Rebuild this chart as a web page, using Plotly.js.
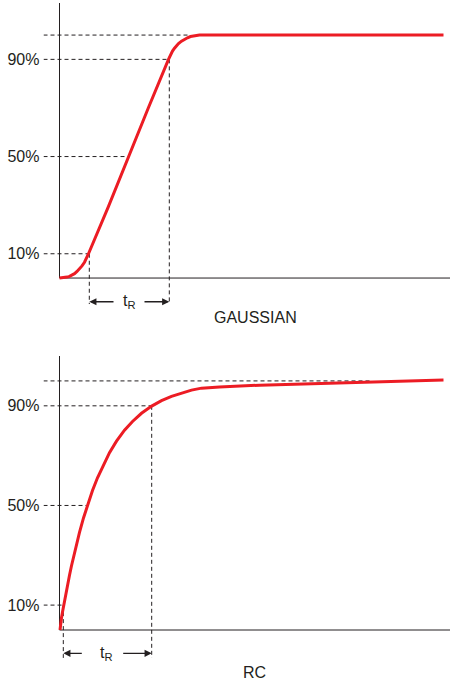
<!DOCTYPE html>
<html>
<head>
<meta charset="utf-8">
<script src="https://cdn.plot.ly/plotly-3.0.1.min.js"></script>
<style>html,body{margin:0;padding:0;background:#fff;}#chart{width:455px;height:685px;}</style>
</head>
<body>
<div id="chart"></div>
<script>
// ---- data (time in arbitrary units, amplitude in % of final value) ----
const levels = [10, 50, 90];
const levelLabels = ['10%', '50%', '90%'];
const finalLevel = 100;
const panelNames = ['GAUSSIAN', 'RC'];

const gaussX = [0, 2.5, 5, 7.5, 10, 12.5, 15, 17.5, 20, 22.5, 25, 27, 29, 48.8, 69, 88.8, 109,
                111, 113, 115, 117, 119, 122, 125, 128, 131, 135, 140, 384];
const gaussY = [0, 0.05, 0.2, 0.4, 0.7, 1.2, 1.8, 2.7, 3.8, 5.0, 6.5, 8.3, 10, 29.3, 50, 70, 90,
                91.9, 93.4, 94.6, 95.6, 96.5, 97.5, 98.3, 98.9, 99.4, 99.8, 100, 100];
const gaussCross = [29.8, 67.5, 109.8];
const gaussFinalEnd = 130.5;

const rcX = [0.5, 1, 2, 3, 4, 5, 6, 8, 10, 12, 14, 17, 20, 24, 28.5, 33, 38, 44, 50, 57, 65, 73, 82,
             92.2, 102, 112, 122, 132, 142, 160, 200, 260, 320, 384];
const rcY = [0, 2.5, 4.9, 7.2, 9.5, 11.7, 13.9, 18.1, 22.0, 25.8, 29.4, 34.5, 39.2, 45.0, 50.8, 56.0,
             61.1, 66.5, 71.2, 75.8, 80.2, 83.7, 87.0, 89.9, 92.1, 93.8, 95.2, 96.3, 97.1, 97.6, 98.3,
             99.0, 99.8, 100.4];
const rcCross = [3.8, 28.5, 92.2];
const rcFinalEnd = 313;

// ---- styling ----
const INK = '#231f20';
const RED = '#ec1c24';
const FONT = 'Liberation Sans, Arial, sans-serif';
const W = 455, H = 685;

const panels = [
  {x: gaussX, y: gaussY, cross: gaussCross, finalEnd: gaussFinalEnd, xa: 'x', ya: 'y',
   yTop: 113.2, yBot: -12, pxTop: 3, pxBot: 307.2, dashBottom: -10.7, arrowY: -9.75,
   tailL: 55.5, tailR: 83.5, labelX: 69.5, nameY: 317.5, nameX: 255.5},
  {x: rcX, y: rcY, cross: rcCross, finalEnd: rcFinalEnd, xa: 'x2', ya: 'y2',
   yTop: 110.0, yBot: -12, pxTop: 356, pxBot: 659.9, dashBottom: -11.2, arrowY: -9.36,
   tailL: 23.8, tailR: 62.2, labelX: 47.2, nameY: 672.5, nameX: 254.7}
];

const traces = [];
const shapes = [];
const annotations = [];
const dash = {color: INK, width: 1, dash: '4px,3px'};
const solid = {color: INK, width: 1};

panels.forEach((p, k) => {
  traces.push({x: p.x, y: p.y, xaxis: p.xa, yaxis: p.ya, type: 'scatter', mode: 'lines',
    line: {color: RED, width: 3, shape: 'linear'}, hoverinfo: 'skip', showlegend: false});
  // axis lines
  shapes.push({type: 'line', xref: p.xa, yref: p.ya, x0: 0, x1: 0, y0: 0, y1: p.yTop, line: solid, layer: 'below'});
  shapes.push({type: 'line', xref: p.xa, yref: p.ya, x0: 0, x1: 390.5, y0: 0, y1: 0, line: solid, layer: 'below'});
  // level guides
  levels.forEach((lv, i) => {
    shapes.push({type: 'line', xref: p.xa, yref: p.ya, x0: -16, x1: p.cross[i], y0: lv, y1: lv, line: dash, layer: 'below'});
  });
  shapes.push({type: 'line', xref: p.xa, yref: p.ya, x0: -16, x1: p.finalEnd, y0: finalLevel, y1: finalLevel, line: dash, layer: 'below'});
  // rise-time verticals (10% and 90%)
  [0, 2].forEach(i => {
    shapes.push({type: 'line', xref: p.xa, yref: p.ya, x0: p.cross[i], x1: p.cross[i], y0: levels[i], y1: p.dashBottom, line: dash, layer: 'below'});
  });
  // arrows
  annotations.push({xref: p.xa, yref: p.ya, axref: p.xa, ayref: p.ya, x: p.cross[0], y: p.arrowY,
    ax: p.tailL, ay: p.arrowY, text: '', showarrow: true, arrowhead: 2, arrowsize: 1.1, arrowwidth: 1.3, arrowcolor: INK, standoff: 0, startstandoff: 0});
  annotations.push({xref: p.xa, yref: p.ya, axref: p.xa, ayref: p.ya, x: p.cross[2], y: p.arrowY,
    ax: p.tailR, ay: p.arrowY, text: '', showarrow: true, arrowhead: 2, arrowsize: 1.1, arrowwidth: 1.3, arrowcolor: INK, standoff: 0, startstandoff: 0});
  annotations.push({xref: p.xa, yref: p.ya, x: p.labelX, y: p.arrowY, text: 't<sub>R</sub>', showarrow: false,
    font: {family: FONT, size: 16, color: INK}, xanchor: 'center', yanchor: 'middle'});
  annotations.push({xref: 'paper', yref: 'paper', x: p.nameX / W, y: 1 - p.nameY / H, text: panelNames[k], showarrow: false,
    font: {family: FONT, size: 16, color: INK}, xanchor: 'center', yanchor: 'middle'});
});

function xAxis(anchor) {
  return {domain: [43.5 / W, 451.5 / W], range: [-16, 392], anchor: anchor, showgrid: false, zeroline: false,
    showline: false, showticklabels: false, ticks: '', fixedrange: true};
}
function yAxis(p, anchor) {
  return {domain: [1 - p.pxBot / H, 1 - p.pxTop / H], range: [p.yBot, p.yTop], anchor: anchor,
    showgrid: false, zeroline: false, showline: false, ticks: '',
    tickmode: 'array', tickvals: levels, ticktext: levelLabels,
    tickfont: {family: FONT, size: 16, color: INK}, ticklabelstandoff: 3, fixedrange: true,
    automargin: false};
}

const layout = {
  width: W, height: H,
  margin: {l: 0, r: 0, t: 0, b: 0, pad: 0},
  paper_bgcolor: '#fff', plot_bgcolor: '#fff',
  showlegend: false,
  xaxis: xAxis('y'), yaxis: yAxis(panels[0], 'x'),
  xaxis2: xAxis('y2'), yaxis2: yAxis(panels[1], 'x2'),
  shapes: shapes, annotations: annotations,
  font: {family: FONT, color: INK}
};

Plotly.newPlot('chart', traces, layout, {staticPlot: true, displayModeBar: false});
</script>
</body>
</html>
